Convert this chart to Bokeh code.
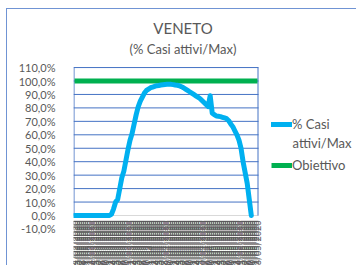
import math
import pandas as pd
from bokeh.plotting import figure
from bokeh.models import Range1d, FixedTicker, Label, Legend, LegendItem
from bokeh.core.properties import value
from bokeh.embed import file_html
from bokeh.resources import INLINE

# ---------------- data ----------------
title_text = "VENETO"
subtitle_text = "(% Casi attivi/Max)"
series_names = ["% Casi", "Obiettivo"]
legend_extra = "attivi/Max"

date_labels = [d.strftime("%d/%m/%Y") for d in pd.date_range("2020-02-24", periods=90, freq="D")]

casi_attivi_pct = [
    0, 0, 0, 0, 0, 0, 0, 0, 0, 0, 0, 0, 0, 0, 0, 0, 0, 0,
    1, 5, 10, 12, 20, 28, 33, 41, 49, 56, 61, 68, 75, 81, 85, 88, 91, 93,
    94, 95, 95.5, 96, 96.5, 96.7, 97, 97.2, 97.4, 97.5, 97.5, 97.5, 97.3, 97,
    96.8, 96.5, 95.8, 95, 94, 93, 92, 91, 90, 89, 88, 87, 85.5, 84, 82.5, 81,
    89, 76, 75, 74, 73.8, 73.5, 73, 72.5, 72, 70.5, 68, 66, 63, 60, 56, 50,
    40, 32, 24, 12, 0,
    float("nan"), float("nan"), float("nan"),
]
obiettivo_pct = [100] * 90

y_ticks = [-10, 0, 10, 20, 30, 40, 50, 60, 70, 80, 90, 100, 110]
y_tick_labels = ["-10,0%", "0,0%", "10,0%", "20,0%", "30,0%", "40,0%", "50,0%",
                 "60,0%", "70,0%", "80,0%", "90,0%", "100,0%", "110,0%"]
grid_ticks = [10, 20, 30, 40, 50, 60, 70, 80, 90, 100, 110]

# ---------------- layout ----------------
N = len(date_labels)
OX, OY = 7, 9           # page position of the figure content (after css margin + border)
W, H = 350, 257
PLOT_L, PLOT_R = 73, 258   # page x of plot area
Y0_PAGE = 215              # page y of 0 %
pxu_y = 1.345
pxu_x = (PLOT_R - PLOT_L) / N
ML = PLOT_L - OX

y_end = (Y0_PAGE - OY) / pxu_y
y_start = (Y0_PAGE - (OY + H)) / pxu_y
x_start = -0.5
x_end = -0.5 + (OX + W - PLOT_L) / pxu_x


def dx(px):
    return -0.5 + (px - PLOT_L) / pxu_x


def dy(py):
    return (Y0_PAGE - py) / pxu_y


FONT = "Lato"
TXT = "#595959"
GRID = "#4472C4"
BORDER = "#7094D4"

p = figure(width=W, height=H, output_backend="svg", toolbar_location=None,
           x_range=Range1d(x_start, x_end), y_range=Range1d(y_start, y_end),
           x_axis_location=None,
           min_border_left=ML, min_border_right=0, min_border_top=0, min_border_bottom=0)
p.styles = {"margin-left": "6px", "margin-top": "8px",
            "border-left": "1px solid " + BORDER, "border-top": "1px solid " + BORDER}
p.outline_line_color = None
p.background_fill_color = "white"
p.border_fill_color = "white"
p.xgrid.visible = False
p.ygrid.visible = False

p.yaxis.ticker = FixedTicker(ticks=y_ticks)
p.yaxis.major_label_overrides = {t: l for t, l in zip(y_ticks, y_tick_labels)}
p.yaxis.axis_line_color = None
p.yaxis.major_tick_line_color = None
p.yaxis.minor_tick_line_color = None
p.yaxis.major_label_standoff = 12
p.yaxis.major_label_text_font = FONT
p.yaxis.major_label_text_font_size = "11px"
p.yaxis.major_label_text_color = TXT

# plot-area grid (horizontal) and side lines
p.segment(x0=[-0.5] * len(grid_ticks), y0=grid_ticks, x1=[N - 0.5] * len(grid_ticks), y1=grid_ticks,
          line_color=GRID, line_width=1)
p.segment(x0=[-0.5], y0=[0], x1=[N - 0.5], y1=[0], line_color="#D9D9D9", line_width=1)
edge = 0.5 / pxu_x
p.segment(x0=[-0.5 + edge, N - 0.5 - edge], y0=[0, 0], x1=[-0.5 + edge, N - 0.5 - edge], y1=[110, 110],
          line_color=GRID, line_width=1)

xs = list(range(N))
p.text(x=xs, y=[0] * N, text=date_labels, angle=math.pi / 2, text_align="right",
       text_baseline="middle", y_offset=5, text_font=value(FONT), text_font_size="9px",
       text_color=TXT)

green = p.line(xs, obiettivo_pct, line_color="#00B050", line_width=5)
blue = p.line(xs, casi_attivi_pct, line_color="#00B0F0", line_width=5, line_join="round", line_cap="round")

p.add_layout(Label(x=dx(182.5), y=dy(27.5), text=title_text, text_align="center", text_baseline="middle",
                   text_font=FONT, text_font_size="15px", text_font_style="normal", text_color=TXT))
p.add_layout(Label(x=dx(182.5), y=dy(48.5), text=subtitle_text, text_align="center", text_baseline="middle",
                   text_font=FONT, text_font_size="13px", text_font_style="normal", text_color=TXT))

legend = Legend(items=[LegendItem(label=series_names[0], renderers=[blue]),
                       LegendItem(label=series_names[1], renderers=[green])],
                location=(271 - PLOT_L, OY + H - 175), orientation="vertical",
                padding=0, margin=0, spacing=21, glyph_width=21, glyph_height=20,
                label_height=20, label_standoff=0, border_line_color=None,
                background_fill_alpha=0, label_text_font=FONT, label_text_font_size="13px",
                label_text_color=TXT)
p.add_layout(legend)
p.add_layout(Label(x=dx(292), y=dy(142), text=legend_extra, text_align="left", text_baseline="middle",
                   text_font=FONT, text_font_size="13px", text_color=TXT))

open("out.html", "w").write(file_html(p, INLINE))
